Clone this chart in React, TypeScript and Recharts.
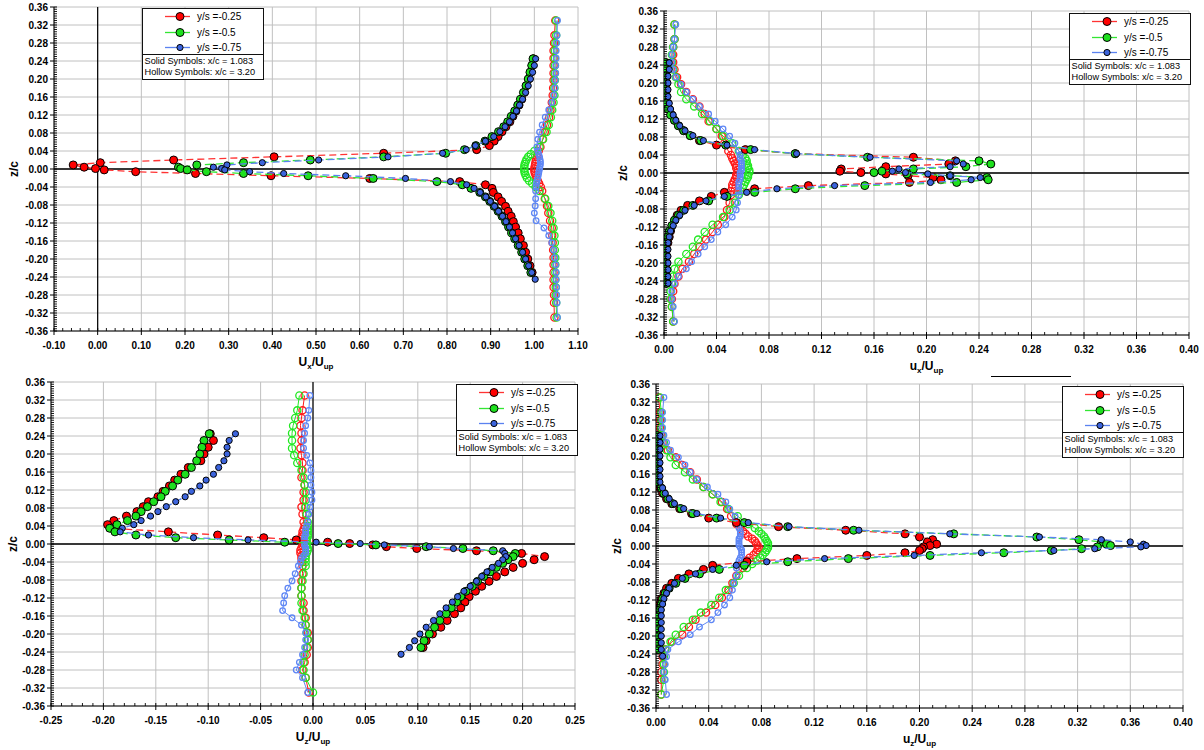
import React from 'react';
import { ScatterChart, Scatter, XAxis, YAxis, CartesianGrid, ReferenceLine } from 'recharts';

// ---------- shared z grids ----------
// solid symbols (x/c = 1.083)
const SZ = [
  0.245, 0.230, 0.215, 0.200, 0.185, 0.170, 0.155, 0.142,
  0.129, 0.117, 0.105, 0.094, 0.083, 0.072, 0.062, 0.052,
  0.043, 0.035, 0.027, 0.020, 0.014, 0.009, 0.004, 0.001,
  -0.002, -0.006, -0.010, -0.015, -0.021, -0.028, -0.035, -0.043,
  -0.052, -0.062, -0.072, -0.083, -0.094, -0.105, -0.117, -0.129,
  -0.142, -0.155, -0.170, -0.185, -0.200, -0.215, -0.230, -0.245,
];
// hollow symbols (x/c = 3.20)
const HZ = [
  0.330, 0.297, 0.280, 0.263, 0.246, 0.230, 0.213,
  0.197, 0.180, 0.164, 0.148, 0.131, 0.115, 0.098,
  0.082, 0.066, 0.049, 0.040, 0.033, 0.027, 0.021,
  0.016, 0.011, 0.006, 0.001, -0.004, -0.009, -0.014,
  -0.020, -0.026, -0.032, -0.040, -0.049, -0.066, -0.082,
  -0.098, -0.115, -0.131, -0.148, -0.164, -0.180, -0.197,
  -0.213, -0.230, -0.246, -0.263, -0.280, -0.297, -0.330,
];

// ---------- Panel 1 : Ux/Uup ----------
const P1_RED_SOLID = [
  0.998, 0.995, 0.991, 0.987, 0.982, 0.977, 0.971, 0.965,
  0.958, 0.951, 0.944, 0.935, 0.926, 0.917, 0.908, 0.897,
  0.868, 0.655, 0.404, 0.174, 0.006, -0.056, -0.031, -0.005,
  0.015, 0.087, 0.224, 0.397, 0.623, 0.829, 0.888, 0.903,
  0.906, 0.917, 0.925, 0.934, 0.940, 0.947, 0.952, 0.957,
  0.963, 0.968, 0.975, 0.980, 0.985, 0.990, 0.995, null,
];
const P1_GREEN_SOLID = [
  0.997, 0.994, 0.990, 0.986, 0.981, 0.975, 0.968, 0.962,
  0.955, 0.947, 0.939, 0.930, 0.918, 0.903, 0.887, 0.866,
  0.840, 0.797, 0.655, 0.487, 0.334, 0.227, 0.185, 0.190,
  0.205, 0.249, 0.334, 0.482, 0.631, 0.777, 0.835, 0.855,
  0.875, 0.888, 0.898, 0.908, 0.917, 0.926, 0.934, 0.941,
  0.948, 0.955, 0.963, 0.971, 0.978, 0.985, 0.992, null,
];
const P1_BLUE_SOLID = [
  1.003, 1.000, 0.996, 0.991, 0.986, 0.980, 0.973, 0.966,
  0.959, 0.951, 0.943, 0.933, 0.921, 0.907, 0.888, 0.865,
  0.844, 0.790, 0.665, 0.506, 0.377, 0.296, 0.265, 0.284,
  0.291, 0.348, 0.426, 0.568, 0.705, 0.808, 0.845, 0.862,
  0.876, 0.889, 0.899, 0.909, 0.918, 0.927, 0.935, 0.943,
  0.950, 0.957, 0.965, 0.973, 0.980, 0.987, 0.994, 1.002,
];
const P1_RED_HOLLOW = [
  1.048, 1.046, 1.045, 1.044, 1.044, 1.044, 1.044,
  1.044, 1.043, 1.042, 1.040, 1.037, 1.034, 1.029,
  1.024, 1.019, 1.014, 1.010, 1.008, 1.006, 1.004,
  1.003, 1.002, 1.001, 1.000, 1.000, 1.001, 1.003,
  1.005, 1.008, 1.011, 1.015, 1.018, 1.024, 1.029,
  1.032, 1.036, 1.040, 1.041, 1.042, 1.043, 1.044,
  1.044, 1.044, 1.044, 1.044, 1.045, 1.045, 1.046,
];
const P1_GREEN_HOLLOW = [
  1.050, 1.050, 1.048, 1.047, 1.047, 1.047, 1.047,
  1.047, 1.046, 1.046, 1.044, 1.041, 1.038, 1.033,
  1.028, 1.020, 1.012, 1.000, 0.992, 0.986, 0.982,
  0.980, 0.978, 0.977, 0.977, 0.977, 0.978, 0.980,
  0.983, 0.988, 0.995, 1.003, 1.012, 1.025, 1.032,
  1.037, 1.041, 1.044, 1.046, 1.047, 1.047, 1.048,
  1.048, 1.048, 1.048, 1.049, 1.049, 1.050, 1.051,
];
const P1_BLUE_HOLLOW = [
  1.053, 1.052, 1.051, 1.050, 1.050, 1.049, 1.049,
  1.048, 1.047, 1.045, 1.040, 1.033, 1.025, 1.018,
  1.012, 1.008, 1.006, 1.008, 1.010, 1.012, 1.013,
  1.014, 1.014, 1.013, 1.012, 1.011, 1.010, 1.009,
  1.008, 1.006, 1.005, 1.004, 1.003, 1.003, 1.002,
  1.000, 1.004, 1.022, 1.033, 1.040, 1.044, 1.047,
  1.049, 1.050, 1.050, 1.051, 1.051, 1.052, 1.053,
];

// ---------- Panel 2 : ux/Uup ----------
const P2_RED_SOLID = [
  0.002, 0.002, 0.002, 0.002, 0.002, 0.002, 0.003, 0.004,
  0.006, 0.008, 0.011, 0.015, 0.020, 0.027, 0.040, 0.062,
  0.100, 0.190, 0.222, 0.217, 0.169, 0.135, 0.134, 0.150,
  0.169, 0.186, 0.205, 0.211, 0.187, 0.110, 0.069, 0.046,
  0.036, 0.027, 0.018, 0.013, 0.010, 0.008, 0.006, 0.005,
  0.004, 0.003, 0.002, 0.002, 0.002, 0.002, 0.002, 0.002,
];
const P2_GREEN_SOLID = [
  0.001, 0.001, 0.001, 0.001, 0.001, 0.002, 0.002, 0.003,
  0.005, 0.008, 0.011, 0.015, 0.020, 0.028, 0.047, 0.066,
  0.100, 0.155, 0.240, 0.249, 0.230, 0.190, 0.166, 0.160,
  0.185, 0.218, 0.246, 0.247, 0.223, 0.153, 0.100, 0.069,
  0.048, 0.034, 0.022, 0.015, 0.011, 0.008, 0.006, 0.004,
  0.003, 0.002, 0.001, 0.001, 0.001, 0.001, 0.001, 0.002,
];
const P2_BLUE_SOLID = [
  0.004, 0.004, 0.003, 0.003, 0.003, 0.003, 0.004, 0.005,
  0.007, 0.009, 0.012, 0.016, 0.022, 0.030, 0.048, 0.069,
  0.101, 0.157, 0.223, 0.228, 0.218, 0.179, 0.174, 0.184,
  0.201, 0.218, 0.241, 0.234, 0.203, 0.130, 0.086, 0.063,
  0.046, 0.032, 0.023, 0.016, 0.012, 0.009, 0.007, 0.005,
  0.004, 0.003, 0.003, 0.003, 0.003, 0.003, 0.003, 0.003,
];
const P2_RED_HOLLOW = [
  0.008, 0.008, 0.007, 0.007, 0.007, 0.008, 0.010,
  0.013, 0.017, 0.022, 0.027, 0.031, 0.034, 0.040,
  0.044, 0.046, 0.049, 0.051, 0.052, 0.053, 0.054,
  0.055, 0.055, 0.056, 0.056, 0.055, 0.055, 0.054,
  0.053, 0.052, 0.052, 0.051, 0.051, 0.050, 0.048,
  0.046, 0.041, 0.037, 0.032, 0.027, 0.023, 0.019,
  0.014, 0.011, 0.008, 0.007, 0.006, 0.006, 0.007,
];
const P2_GREEN_HOLLOW = [
  0.008, 0.008, 0.007, 0.006, 0.006, 0.007, 0.009,
  0.011, 0.013, 0.017, 0.023, 0.029, 0.035, 0.040,
  0.045, 0.052, 0.057, 0.060, 0.062, 0.063, 0.063,
  0.064, 0.064, 0.065, 0.065, 0.064, 0.064, 0.063,
  0.062, 0.061, 0.060, 0.058, 0.057, 0.054, 0.050,
  0.045, 0.037, 0.031, 0.026, 0.022, 0.017, 0.011,
  0.008, 0.007, 0.006, 0.005, 0.005, 0.006, 0.007,
];
const P2_BLUE_HOLLOW = [
  0.009, 0.008, 0.007, 0.006, 0.006, 0.007, 0.009,
  0.013, 0.017, 0.022, 0.027, 0.034, 0.039, 0.045,
  0.050, 0.054, 0.057, 0.058, 0.058, 0.059, 0.059,
  0.059, 0.059, 0.059, 0.058, 0.058, 0.058, 0.058,
  0.057, 0.057, 0.057, 0.057, 0.057, 0.056, 0.055,
  0.052, 0.047, 0.041, 0.036, 0.031, 0.026, 0.021,
  0.017, 0.011, 0.008, 0.006, 0.006, 0.007, 0.008,
];

// ---------- Panel 3 : Uz/Uup ----------
const P3_RED_SOLID = [
  -0.098, -0.095, -0.100, -0.104, -0.107, -0.119, -0.126, -0.132,
  -0.137, -0.143, -0.148, -0.157, -0.162, -0.168, -0.178, -0.190,
  -0.196, -0.192, -0.138, -0.091, -0.047, -0.016, 0.014, 0.035,
  0.057, 0.070, 0.099, 0.156, 0.199, 0.221, 0.211, 0.200,
  0.191, 0.183, 0.175, 0.168, 0.161, 0.155, 0.149, 0.145,
  0.141, 0.135, 0.128, 0.122, 0.114, 0.108, 0.105, null,
];
const P3_GREEN_SOLID = [
  -0.099, -0.104, -0.106, -0.108, -0.111, -0.116, -0.122, -0.129,
  -0.134, -0.141, -0.145, -0.152, -0.158, -0.164, -0.169, -0.177,
  -0.187, -0.194, -0.189, -0.169, -0.131, -0.080, -0.027, 0.024,
  0.060, 0.108, 0.143, 0.172, 0.193, 0.191, 0.186, 0.181,
  0.175, 0.169, 0.163, 0.157, 0.152, 0.146, 0.141, 0.137,
  0.132, 0.127, 0.121, 0.116, 0.111, 0.106, 0.103, null,
];
const P3_BLUE_SOLID = [
  -0.074, -0.080, -0.082, -0.082, -0.085, -0.090, -0.095, -0.102,
  -0.108, -0.116, -0.122, -0.131, -0.140, -0.148, -0.155, -0.164,
  -0.171, -0.182, -0.184, -0.157, -0.114, -0.062, 0.003, 0.045,
  0.068, 0.111, 0.134, 0.181, 0.183, 0.184, 0.181, 0.177,
  0.171, 0.166, 0.161, 0.156, 0.150, 0.144, 0.138, 0.133,
  0.127, 0.121, 0.115, 0.108, 0.102, 0.097, 0.092, 0.084,
];
const P3_RED_HOLLOW = [
  -0.008, -0.010, -0.011, -0.012, -0.011, -0.011, -0.012,
  -0.011, -0.010, -0.010, -0.011, -0.008, -0.009, -0.009,
  -0.011, -0.010, -0.009, -0.008, -0.009, -0.010, -0.010,
  -0.011, -0.011, -0.010, -0.009, -0.010, -0.011, -0.012,
  -0.012, -0.011, -0.011, -0.010, -0.010, -0.010, -0.011,
  -0.011, -0.011, -0.009, -0.009, -0.007, -0.007, -0.005,
  -0.005, -0.005, -0.006, -0.008, -0.010, -0.007, -0.004,
];
const P3_GREEN_HOLLOW = [
  -0.013, -0.015, -0.017, -0.019, -0.020, -0.020, -0.020,
  -0.018, -0.015, -0.011, -0.009, -0.008, -0.007, -0.007,
  -0.007, -0.006, -0.005, -0.005, -0.005, -0.005, -0.005,
  -0.005, -0.006, -0.006, -0.006, -0.006, -0.005, -0.005,
  -0.006, -0.007, -0.007, -0.007, -0.007, -0.009, -0.010,
  -0.011, -0.011, -0.011, -0.010, -0.008, -0.007, -0.006,
  -0.005, -0.006, -0.008, -0.009, -0.009, -0.007, 0.000,
];
const P3_BLUE_HOLLOW = [
  -0.003, -0.004, -0.005, -0.007, -0.008, -0.009, -0.009,
  -0.006, -0.003, -0.002, -0.002, -0.002, -0.001, -0.001,
  -0.003, -0.004, -0.005, -0.006, -0.007, -0.007, -0.007,
  -0.008, -0.008, -0.008, -0.008, -0.008, -0.007, -0.007,
  -0.007, -0.009, -0.011, -0.012, -0.014, -0.017, -0.020,
  -0.024, -0.027, -0.028, -0.029, -0.020, -0.011, -0.007,
  -0.007, -0.008, -0.010, -0.013, -0.016, -0.010, -0.005,
];

// ---------- Panel 4 : uz/Uup ----------
const P4_RED_SOLID = [
  0.000, 0.001, 0.000, 0.001, 0.001, 0.001, 0.000, 0.001,
  0.003, 0.005, 0.008, 0.012, 0.018, 0.027, 0.040, 0.061,
  0.093, 0.144, 0.189, 0.200, 0.210, 0.206, 0.213, 0.208,
  0.203, 0.202, 0.200, 0.189, 0.160, 0.107, 0.069, 0.043,
  0.036, 0.025, 0.017, 0.012, 0.008, 0.006, 0.004, 0.003,
  0.002, 0.001, 0.001, 0.001, 0.001, 0.001, 0.001, null,
];
const P4_GREEN_SOLID = [
  0.001, 0.002, 0.002, 0.002, 0.002, 0.002, 0.002, 0.002,
  0.004, 0.006, 0.009, 0.013, 0.019, 0.028, 0.046, 0.067,
  0.100, 0.150, 0.226, 0.289, 0.321, 0.338, 0.342, 0.345,
  0.335, 0.323, 0.300, 0.264, 0.208, 0.146, 0.100, 0.067,
  0.048, 0.033, 0.022, 0.015, 0.010, 0.007, 0.005, 0.004,
  0.003, 0.002, 0.002, 0.002, 0.002, 0.002, 0.002, null,
];
const P4_BLUE_SOLID = [
  0.003, 0.003, 0.003, 0.003, 0.003, 0.003, 0.003, 0.003,
  0.005, 0.007, 0.010, 0.014, 0.021, 0.031, 0.049, 0.070,
  0.101, 0.154, 0.223, 0.291, 0.338, 0.360, 0.370, 0.372,
  0.368, 0.333, 0.302, 0.247, 0.196, 0.128, 0.084, 0.061,
  0.043, 0.030, 0.020, 0.014, 0.010, 0.008, 0.006, 0.005,
  0.004, 0.004, 0.004, 0.004, 0.004, 0.004, 0.004, 0.005,
];
const P4_RED_HOLLOW = [
  0.002, 0.003, 0.003, 0.003, 0.004, 0.005, 0.009,
  0.015, 0.020, 0.026, 0.031, 0.036, 0.043, 0.050,
  0.054, 0.057, 0.061, 0.064, 0.066, 0.068, 0.070,
  0.073, 0.075, 0.076, 0.077, 0.078, 0.077, 0.076,
  0.074, 0.071, 0.069, 0.068, 0.066, 0.061, 0.058,
  0.055, 0.050, 0.045, 0.038, 0.030, 0.025, 0.020,
  0.012, 0.007, 0.005, 0.005, 0.004, 0.004, 0.004,
];
const P4_GREEN_HOLLOW = [
  0.003, 0.004, 0.004, 0.004, 0.005, 0.006, 0.008,
  0.011, 0.015, 0.022, 0.028, 0.036, 0.043, 0.049,
  0.055, 0.062, 0.070, 0.075, 0.078, 0.080, 0.082,
  0.083, 0.084, 0.085, 0.085, 0.085, 0.084, 0.083,
  0.081, 0.079, 0.077, 0.073, 0.069, 0.063, 0.059,
  0.053, 0.048, 0.042, 0.034, 0.028, 0.021, 0.015,
  0.011, 0.007, 0.006, 0.006, 0.006, 0.006, 0.004,
];
const P4_BLUE_HOLLOW = [
  0.006, 0.005, 0.005, 0.005, 0.006, 0.008, 0.011,
  0.017, 0.022, 0.026, 0.031, 0.039, 0.047, 0.053,
  0.056, 0.060, 0.062, 0.063, 0.064, 0.064, 0.064,
  0.063, 0.063, 0.063, 0.063, 0.064, 0.065, 0.065,
  0.065, 0.064, 0.063, 0.062, 0.061, 0.061, 0.059,
  0.058, 0.056, 0.052, 0.047, 0.042, 0.033, 0.026,
  0.017, 0.009, 0.008, 0.007, 0.006, 0.007, 0.008,
];

// ---------- ticks / labels ----------
const Z_TICKS = [-0.36, -0.32, -0.28, -0.24, -0.20, -0.16, -0.12, -0.08, -0.04, 0, 0.04, 0.08, 0.12, 0.16, 0.20, 0.24, 0.28, 0.32, 0.36];
const P1_X_TICKS = [-0.1, 0, 0.1, 0.2, 0.3, 0.4, 0.5, 0.6, 0.7, 0.8, 0.9, 1.0, 1.1];
const P2_X_TICKS = [0, 0.04, 0.08, 0.12, 0.16, 0.2, 0.24, 0.28, 0.32, 0.36, 0.4];
const P3_X_TICKS = [-0.25, -0.2, -0.15, -0.1, -0.05, 0, 0.05, 0.1, 0.15, 0.2, 0.25];
const P4_X_TICKS = [0, 0.04, 0.08, 0.12, 0.16, 0.2, 0.24, 0.28, 0.32, 0.36, 0.4];
const LEGEND_LABELS = ['y/s =-0.25', 'y/s =-0.5', 'y/s =-0.75'];
const NOTE_LINES = ['Solid Symbols: x/c = 1.083', 'Hollow Symbols: x/c = 3.20'];

// ---------- styles ----------
const FONT = '"Liberation Sans", Arial, sans-serif';
const FILL = ['#ff0000', '#1ee01e', '#3c64dc'];
const DASH = ['#ff3333', '#33e633', '#5a82f0'];
const HOLLOW = ['#ff1a1a', '#22e822', '#5f87f5'];
const SOLID_R = [4.0, 4.0, 3.1];
const HOLLOW_R = [3.6, 3.6, 2.8];

type Pt = { v: number; z: number };
const zip = (zs: number[], vs: (number | null)[]): Pt[] =>
  zs.map((z, i) => ({ z, v: vs[i] as number })).filter((p) => p.v !== null && p.v !== undefined);

const subdivide = (majors: number[], n: number) => {
  const out: number[] = [];
  for (let i = 0; i < majors.length - 1; i++) {
    for (let k = 0; k < n; k++) {
      out.push(Math.round((majors[i] + ((majors[i + 1] - majors[i]) * k) / n) * 100000) / 100000);
    }
  }
  out.push(majors[majors.length - 1]);
  return out;
};
const isMajor = (v: number, majors: number[]) => majors.some((m) => Math.abs(m - v) < 1e-6);
const fmt = (v: number) => (Math.abs(v) < 1e-9 ? 0 : v).toFixed(2);

const makeXTick = (axisY: number, majors: number[]) => (props: any) => {
  const { x, payload } = props;
  const v = payload.value;
  if (isMajor(v, majors)) {
    return (
      <g>
        <line x1={x} x2={x} y1={axisY - 3} y2={axisY + 4} stroke="#000" strokeWidth={1} />
        <text x={x} y={axisY + 18} textAnchor="middle" fontFamily={FONT} fontSize={10} fontWeight="bold" fill="#000">
          {fmt(v)}
        </text>
      </g>
    );
  }
  return <line x1={x} x2={x} y1={axisY - 3} y2={axisY} stroke="#000" strokeWidth={0.9} />;
};

const makeYTick = (axisX: number, majors: number[]) => (props: any) => {
  const { y, payload } = props;
  const v = payload.value;
  if (isMajor(v, majors)) {
    return (
      <g>
        <line x1={axisX - 4} x2={axisX + 3} y1={y} y2={y} stroke="#000" strokeWidth={1} />
        <text x={axisX - 6} y={y + 3.5} textAnchor="end" fontFamily={FONT} fontSize={10} fontWeight="bold" fill="#000">
          {fmt(v)}
        </text>
      </g>
    );
  }
  return <line x1={axisX} x2={axisX + 3} y1={y} y2={y} stroke="#000" strokeWidth={0.9} />;
};

const solidShape = (i: number) => (p: any) =>
  <circle cx={p.cx} cy={p.cy} r={SOLID_R[i]} fill={FILL[i]} stroke="#000" strokeWidth={1} />;
const hollowShape = (i: number) => (p: any) =>
  <circle cx={p.cx} cy={p.cy} r={HOLLOW_R[i]} fill="none" stroke={HOLLOW[i]} strokeWidth={1.3} />;

type PanelCfg = {
  left: number; top: number; width: number; height: number;
  margin: { top: number; right: number; bottom: number; left: number };
  yWidth: number;
  xTicks: number[]; xMinor: number; zeroX: boolean;
  solid: (number | null)[][];
  hollow: (number | null)[][];
  titleMain: string; titleSub: string;
  zcX: number;
};

const Panel = ({ cfg }: { cfg: PanelCfg }) => {
  const plotLeft = cfg.margin.left + cfg.yWidth;
  const plotRight = cfg.width - cfg.margin.right;
  const plotTop = cfg.margin.top;
  const plotBottom = cfg.height - cfg.margin.bottom - 30;
  const xAll = subdivide(cfg.xTicks, cfg.xMinor);
  const yAll = subdivide(Z_TICKS, 8);
  const xDomain = [cfg.xTicks[0], cfg.xTicks[cfg.xTicks.length - 1]];
  return (
    <div style={{ position: 'absolute', left: cfg.left, top: cfg.top, width: cfg.width, height: cfg.height }}>
      <ScatterChart width={cfg.width} height={cfg.height} margin={cfg.margin}>
        <CartesianGrid stroke="#c0c0c0" strokeWidth={1} horizontalValues={Z_TICKS} verticalValues={cfg.xTicks} />
        <XAxis
          type="number" dataKey="v" domain={xDomain} ticks={xAll} interval={0} allowDataOverflow
          tick={makeXTick(plotBottom, cfg.xTicks)} tickLine={false} axisLine={{ stroke: '#000' }} height={30}
        />
        <YAxis
          type="number" dataKey="z" domain={[-0.36, 0.36]} ticks={yAll} interval={0} allowDataOverflow
          tick={makeYTick(plotLeft, Z_TICKS)} tickLine={false} axisLine={{ stroke: '#000' }} width={cfg.yWidth}
        />
        <ReferenceLine y={0} stroke="#000" strokeWidth={1.6} />
        {cfg.zeroX && <ReferenceLine x={0} stroke="#000" strokeWidth={1.2} />}
        {cfg.hollow.map((vals, i) => (
          <Scatter
            key={'h' + i}
            data={zip(HZ, vals)}
            fill={HOLLOW[i]}
            line={{ stroke: HOLLOW[i], strokeWidth: 1 }}
            lineType="joint"
            shape={hollowShape(i)}
            isAnimationActive={false}
          />
        ))}
        {cfg.solid.map((vals, i) => (
          <Scatter
            key={'s' + i}
            data={zip(SZ, vals)}
            fill={FILL[i]}
            line={{ stroke: DASH[i], strokeWidth: 1.3, strokeDasharray: '7 4' }}
            lineType="joint"
            shape={solidShape(i)}
            isAnimationActive={false}
          />
        ))}
      </ScatterChart>
      <div
        style={{
          position: 'absolute', left: (plotLeft + plotRight) / 2 - 50, width: 100, top: plotBottom + 24,
          textAlign: 'center', fontFamily: FONT, fontWeight: 'bold', fontSize: 12, lineHeight: '14px',
        }}
      >
        {cfg.titleMain}<sub style={{ fontSize: 8 }}>{cfg.titleSub}</sub>/U<sub style={{ fontSize: 8 }}>up</sub>
      </div>
      <div
        style={{
          position: 'absolute', left: cfg.zcX - 15, width: 30, top: (plotTop + plotBottom) / 2 - 7, height: 14,
          textAlign: 'center', fontFamily: FONT, fontWeight: 'bold', fontSize: 12, lineHeight: '14px',
          transform: 'rotate(-90deg)',
        }}
      >
        z/c
      </div>
    </div>
  );
};

const LegendBox = ({ left, top }: { left: number; top: number }) => (
  <div style={{ position: 'absolute', left, top, width: 122, fontFamily: FONT }}>
    <div style={{ height: 47, border: '1.5px solid #111', background: '#fff', boxSizing: 'border-box', paddingTop: 0 }}>
      {LEGEND_LABELS.map((lab, i) => (
        <div key={lab} style={{ position: 'relative', height: 15.5 }}>
          <svg width={52} height={15} style={{ position: 'absolute', left: 0, top: 0 }}>
            <line x1={22} x2={47} y1={7.5} y2={7.5} stroke={DASH[i]} strokeWidth={1.3} />
            <circle cx={37} cy={7.5} r={SOLID_R[i]} fill={FILL[i]} stroke="#000" strokeWidth={1} />
          </svg>
          <span style={{ position: 'absolute', left: 54, top: 1, fontSize: 10, lineHeight: '13px' }}>{lab}</span>
        </div>
      ))}
    </div>
    <div
      style={{
        height: 25, border: '1px solid #111', borderTop: 'none', background: '#fff', boxSizing: 'border-box',
        fontSize: 9.2, lineHeight: '11px', paddingLeft: 1.5, paddingTop: 1, whiteSpace: 'nowrap',
      }}
    >
      {NOTE_LINES.map((t) => (
        <div key={t}>{t}</div>
      ))}
    </div>
  </div>
);

const PANELS: PanelCfg[] = [
  {
    left: 0, top: 0, width: 600, height: 375, margin: { top: 7, right: 22, bottom: 14, left: 0 }, yWidth: 54,
    xTicks: P1_X_TICKS, xMinor: 5, zeroX: true,
    solid: [P1_RED_SOLID, P1_GREEN_SOLID, P1_BLUE_SOLID], hollow: [P1_RED_HOLLOW, P1_GREEN_HOLLOW, P1_BLUE_HOLLOW],
    titleMain: 'U', titleSub: 'x', zcX: 14,
  },
  {
    left: 602, top: 0, width: 602, height: 375, margin: { top: 11, right: 15, bottom: 10, left: 0 }, yWidth: 62,
    xTicks: P2_X_TICKS, xMinor: 4, zeroX: false,
    solid: [P2_RED_SOLID, P2_GREEN_SOLID, P2_BLUE_SOLID], hollow: [P2_RED_HOLLOW, P2_GREEN_HOLLOW, P2_BLUE_HOLLOW],
    titleMain: 'u', titleSub: 'x', zcX: 21,
  },
  {
    left: 0, top: 375, width: 600, height: 375, margin: { top: 7, right: 25, bottom: 14, left: 0 }, yWidth: 51,
    xTicks: P3_X_TICKS, xMinor: 5, zeroX: true,
    solid: [P3_RED_SOLID, P3_GREEN_SOLID, P3_BLUE_SOLID], hollow: [P3_RED_HOLLOW, P3_GREEN_HOLLOW, P3_BLUE_HOLLOW],
    titleMain: 'U', titleSub: 'z', zcX: 13,
  },
  {
    left: 602, top: 375, width: 602, height: 375, margin: { top: 9, right: 21, bottom: 12, left: 0 }, yWidth: 54,
    xTicks: P4_X_TICKS, xMinor: 4, zeroX: false,
    solid: [P4_RED_SOLID, P4_GREEN_SOLID, P4_BLUE_SOLID], hollow: [P4_RED_HOLLOW, P4_GREEN_HOLLOW, P4_BLUE_HOLLOW],
    titleMain: 'u', titleSub: 'z', zcX: 15,
  },
];

export default function App() {
  return (
    <div style={{ position: 'absolute', left: 0, top: 0, width: 1204, height: 750, background: '#fff', overflow: 'hidden' }}>
      {PANELS.map((cfg, i) => (
        <Panel key={i} cfg={cfg} />
      ))}
      <LegendBox left={142} top={8} />
      <LegendBox left={1069} top={13} />
      <LegendBox left={456} top={384} />
      <LegendBox left={1062} top={386} />
      <div style={{ position: 'absolute', left: 991, top: 376, width: 80, height: 1, background: '#000' }} />
    </div>
  );
}
